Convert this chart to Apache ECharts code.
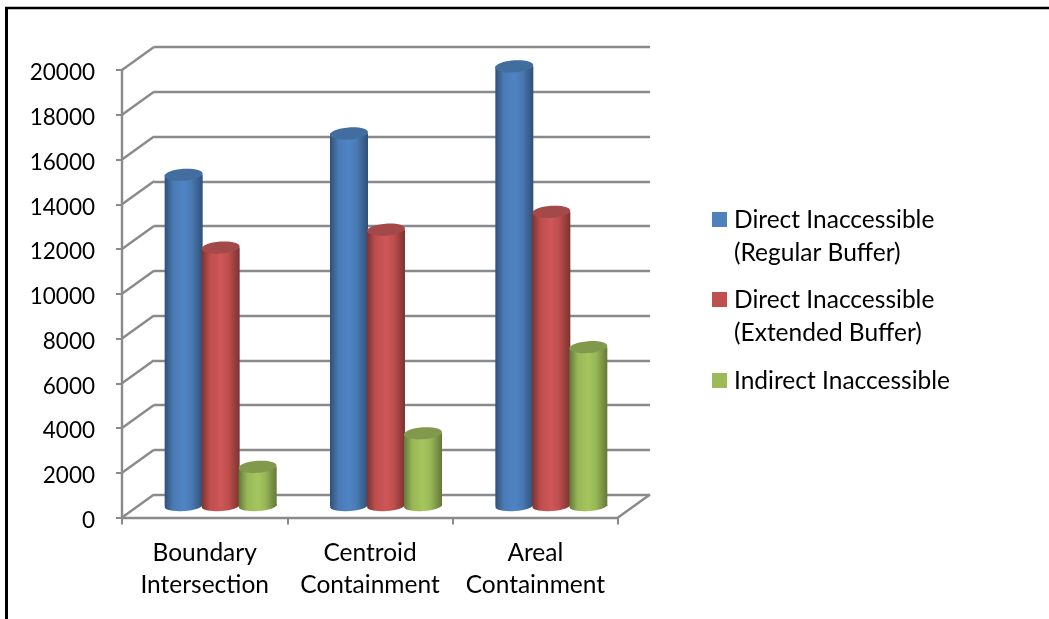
<!DOCTYPE html>
<html>
<head>
<meta charset="utf-8">
<style>html,body{margin:0;padding:0;background:#fff}#chart{width:1049px;height:619px}</style>
<script src="https://cdn.jsdelivr.net/npm/echarts@6/dist/echarts.min.js"></script>
</head>
<body>
<div id="chart"></div>
<script>
// Inaccessible counts per containment rule, drawn as cylinders in a pseudo-3D box.
const categories = ['Boundary\nIntersection', 'Centroid\nContainment', 'Areal\nContainment'];
const regularBuffer = [14800, 16650, 19650];
const extendedBuffer = [11550, 12350, 13150];
const indirect = [1750, 3250, 7100];
const seriesNames = ['Direct Inaccessible\n(Regular Buffer)', 'Direct Inaccessible\n(Extended Buffer)', 'Indirect Inaccessible'];
const yTicks = [0, 2000, 4000, 6000, 8000, 10000, 12000, 14000, 16000, 18000, 20000];

const FONT = 'Lato';
const AXIS_COLOR = '#8a8a8a';
const AXIS_WIDTH = 2.4;
const DEPTH_X = 32, DEPTH_Y = -23;
const BAR_STEP = 37, BAR_RX = 19, CAP_RY = 6, FOOT_RY = 5;

const palettes = [
  { base: '#4A7AB4', mid: '#4F84C4', edge: '#2F5078', top: '#426D9F' },
  { base: '#BD4F4D', mid: '#CF5658', edge: '#7C3331', top: '#A4494A' },
  { base: '#98B757', mid: '#A5C65E', edge: '#64783A', top: '#80994D' }
];
const legendColors = ['#4F81BD', '#C0504D', '#9BBB59'];

function shade(p) {
  return {
    type: 'linear', x: 0, y: 0, x2: 1, y2: 0,
    colorStops: [
      { offset: 0, color: p.edge }, { offset: 0.22, color: p.base },
      { offset: 0.5, color: p.mid }, { offset: 0.7, color: p.base },
      { offset: 1, color: p.edge }
    ]
  };
}

// One cylinder: body, rounded foot and a slightly tilted cap.
function cylinder(seriesPos, p) {
  return function (params, api) {
    const idx = api.value(0), val = api.value(1);
    const top = api.coord([idx, val]);
    const foot = api.coord([idx, 0]);
    const cx = top[0] + DEPTH_X / 2 + seriesPos * BAR_STEP;
    const yTop = top[1] + DEPTH_Y / 2;
    const yFoot = foot[1] + DEPTH_Y / 2;
    const tilt = 0.07;
    const fill = shade(p);
    return {
      type: 'group',
      children: [
        { type: 'ellipse', shape: { cx, cy: yFoot, rx: BAR_RX, ry: FOOT_RY }, rotation: tilt, originX: cx, originY: yFoot, style: { fill } },
        { type: 'rect', shape: { x: cx - BAR_RX, y: yTop, width: BAR_RX * 2, height: yFoot - yTop }, style: { fill } },
        { type: 'ellipse', shape: { cx, cy: yTop, rx: BAR_RX, ry: CAP_RY }, rotation: tilt, originX: cx, originY: yTop, style: { fill: p.top } }
      ]
    };
  };
}

// Side-wall diagonals joining each front tick to its back-wall gridline.
function wallDiagonal(params, api) {
  const a = api.coord([api.value(0), api.value(1)]);
  const x = a[0] - api.size([1, 0])[0] / 2;
  return {
    type: 'line',
    shape: { x1: x, y1: a[1], x2: x + DEPTH_X, y2: a[1] + DEPTH_Y },
    style: { stroke: AXIS_COLOR, lineWidth: AXIS_WIDTH }
  };
}
function floorDiagonal(params, api) {
  const a = api.coord([api.value(0), 0]);
  const x = a[0] + api.size([1, 0])[0] / 2;
  return {
    type: 'line',
    shape: { x1: x, y1: a[1], x2: x + DEPTH_X, y2: a[1] + DEPTH_Y },
    style: { stroke: AXIS_COLOR, lineWidth: AXIS_WIDTH }
  };
}

const legendGraphics = [];
const legendY = [212, 292, 373];
seriesNames.forEach(function (name, i) {
  legendGraphics.push({ type: 'rect', left: 712, top: legendY[i], shape: { width: 15, height: 15 }, style: { fill: legendColors[i] } });
  legendGraphics.push({
    type: 'text', left: 734, top: legendY[i] - 8,
    style: { text: name, fill: '#000', font: '24.5px ' + FONT, lineHeight: 33 }
  });
});

const chart = echarts.init(document.getElementById('chart'), null, { renderer: 'canvas' });
chart.setOption({
  animation: false,
  backgroundColor: '#fff',
  textStyle: { fontFamily: FONT },
  grid: [
    { left: 122, top: 70, width: 496, height: 447.5 },
    { left: 154, top: 47, width: 496, height: 447.5 }
  ],
  xAxis: [
    {
      type: 'category', gridIndex: 0, data: categories,
      axisLine: { lineStyle: { color: AXIS_COLOR, width: AXIS_WIDTH } },
      axisTick: { show: true, length: 7, lineStyle: { color: AXIS_COLOR, width: 2 } },
      axisLabel: { color: '#000', fontSize: 24.5, fontFamily: FONT, lineHeight: 32, margin: 20, interval: 0 }
    },
    { type: 'category', gridIndex: 1, data: categories, show: false }
  ],
  yAxis: [
    {
      type: 'value', gridIndex: 0, min: 0, max: 20000, interval: 2000,
      axisLine: { show: true, lineStyle: { color: AXIS_COLOR, width: AXIS_WIDTH } },
      axisTick: { show: true, length: 6, lineStyle: { color: AXIS_COLOR, width: 2 } },
      axisLabel: {
        margin: 27,
        formatter: function (v) { return '{n|' + v + '}'; },
        rich: { n: { color: '#000', fontSize: 22.5, fontFamily: FONT, padding: [6, 0, 0, 0] } }
      },
      splitLine: { show: false }
    },
    {
      type: 'value', gridIndex: 1, min: 0, max: 20000, interval: 2000,
      axisLine: { show: false }, axisTick: { show: false }, axisLabel: { show: false },
      splitLine: { show: true, lineStyle: { color: AXIS_COLOR, width: AXIS_WIDTH } }
    }
  ],
  series: [
    {
      type: 'custom', xAxisIndex: 0, yAxisIndex: 0, clip: false, silent: true, z: 1,
      data: yTicks.map(function (t) { return [0, t]; }), renderItem: wallDiagonal
    },
    {
      type: 'custom', xAxisIndex: 0, yAxisIndex: 0, clip: false, silent: true, z: 1,
      data: [[2, 0]], renderItem: floorDiagonal
    }
  ].concat([regularBuffer, extendedBuffer, indirect].map(function (values, i) {
    return {
      type: 'custom', name: seriesNames[i], xAxisIndex: 0, yAxisIndex: 0, clip: false, z: 3 + i,
      itemStyle: { color: legendColors[i] },
      data: values.map(function (v, k) { return [k, v]; }),
      renderItem: cylinder(i - 1, palettes[i])
    };
  })),
  graphic: legendGraphics.concat([
    { type: 'line', silent: true, shape: { x1: 5, y1: 8, x2: 1049, y2: 8 }, style: { stroke: '#000', lineWidth: 2.6 } },
    { type: 'line', silent: true, shape: { x1: 6.5, y1: 7, x2: 6.5, y2: 619 }, style: { stroke: '#000', lineWidth: 3 } }
  ])
});
</script>
</body>
</html>
